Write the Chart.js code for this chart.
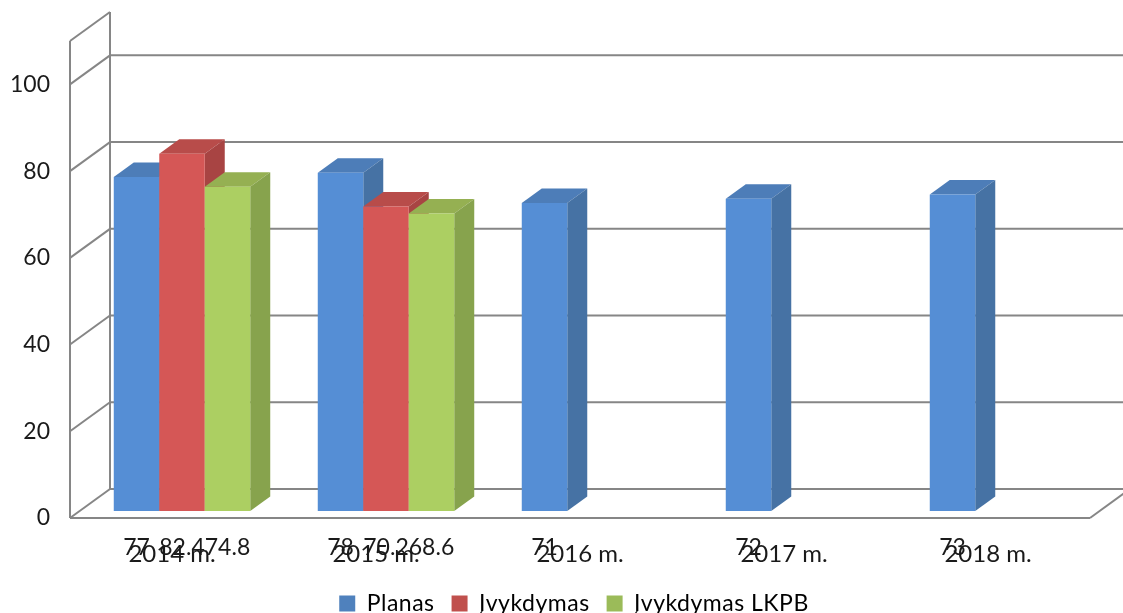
<!DOCTYPE html>
<html>
<head>
<meta charset="utf-8">
<style>
  html, body { margin: 0; padding: 0; background: #fff; overflow: hidden; }
  #wrap { width: 1123px; height: 613px; position: relative; }
</style>
<script src="https://cdn.jsdelivr.net/npm/chart.js"></script>
</head>
<body>
<div id="wrap"><canvas id="chart"></canvas></div>
<script>
// Data
const categories = ['2014 m.', '2015 m.', '2016 m.', '2017 m.', '2018 m.'];
const planas = [77, 78, 71, 72, 73];
const ivykdymas = [82.4, 70.2, null, null, null];
const ivykdymasLkpb = [74.8, 68.6, null, null, null];
const yTicks = [0, 20, 40, 60, 80, 100];

const FONT = 'Lato';
const GRID = '#868686';
const WALL = { dx: 40, dy: -29 };   // depth of the fake 3d box
const BAR_SHIFT = { dx: 10, dy: -7 };
const BAR_DEPTH = { dx: 20, dy: -14.5 };

const shades = [
    { front: '#558ed5', top: '#4d7db8', side: '#4672a4', legend: '#4f81bd' },
    { front: '#d55756', top: '#b84c4a', side: '#a84443', legend: '#c0504d' },
    { front: '#accf62', top: '#95b052', side: '#87a34d', legend: '#9bbb59' }
];

// Walls and floor behind the bars
const wallsPlugin = {
    id: 'walls',
    beforeDatasetsDraw(chart) {
        const { ctx, chartArea, scales } = chart;
        const left = chartArea.left, right = chartArea.right;
        const bottom = scales.y.getPixelForValue(0), top = chartArea.top;
        ctx.save();
        ctx.strokeStyle = GRID;
        ctx.lineWidth = 2;
        const line = (x1, y1, x2, y2) => {
            ctx.beginPath();
            ctx.moveTo(x1, y1);
            ctx.lineTo(x2, y2);
            ctx.stroke();
        };
        line(left, top, left, bottom);
        line(left + WALL.dx, top + WALL.dy, left + WALL.dx, bottom + WALL.dy);
        line(left, top, left + WALL.dx, top + WALL.dy);
        yTicks.forEach(v => {
            const y = scales.y.getPixelForValue(v);
            line(left, y, left + WALL.dx, y + WALL.dy);
            line(left + WALL.dx, y + WALL.dy, right + WALL.dx, y + WALL.dy);
        });
        line(left, bottom, right, bottom);
        line(right, bottom, right + WALL.dx, bottom + WALL.dy);
        ctx.restore();
    }
};

// Default bar drawing is cancelled so the series can be painted left to right,
// each bar with its top and side faces
const barsPlugin = {
    id: 'bars3d',
    beforeDatasetDraw() {
        return false;
    },
    afterDatasetsDraw(chart) {
        const { ctx } = chart;
        ctx.save();
        ctx.translate(BAR_SHIFT.dx, BAR_SHIFT.dy);
        chart.data.datasets.forEach((ds, i) => {
            const colors = shades[i];
            chart.getDatasetMeta(i).data.forEach((bar, j) => {
                if (ds.data[j] === null) return;
                const l = bar.x - bar.width / 2, r = bar.x + bar.width / 2;
                const t = bar.y, b = bar.base;
                ctx.fillStyle = colors.top;
                ctx.beginPath();
                ctx.moveTo(l, t);
                ctx.lineTo(l + BAR_DEPTH.dx, t + BAR_DEPTH.dy);
                ctx.lineTo(r + BAR_DEPTH.dx, t + BAR_DEPTH.dy);
                ctx.lineTo(r, t);
                ctx.closePath();
                ctx.fill();
                ctx.fillStyle = colors.side;
                ctx.beginPath();
                ctx.moveTo(r, t);
                ctx.lineTo(r + BAR_DEPTH.dx, t + BAR_DEPTH.dy);
                ctx.lineTo(r + BAR_DEPTH.dx, b + BAR_DEPTH.dy);
                ctx.lineTo(r, b);
                ctx.closePath();
                ctx.fill();
                bar.draw(ctx);
            });
        });
        ctx.restore();
    }
};

// Value labels sit under the floor, on top of the category labels
const valueLabelsPlugin = {
    id: 'valueLabels',
    afterDraw(chart) {
        const { ctx } = chart;
        ctx.save();
        ctx.font = '23px ' + FONT;
        ctx.fillStyle = '#1a1a1a';
        ctx.textAlign = 'center';
        ctx.textBaseline = 'middle';
        chart.data.datasets.forEach((ds, i) => {
            chart.getDatasetMeta(i).data.forEach((bar, j) => {
                if (ds.data[j] === null) return;
                ctx.fillText(String(ds.data[j]), bar.x + BAR_SHIFT.dx, 548);
            });
        });
        ctx.restore();
    }
};

// Legend is placed by hand: it runs off the bottom of the picture.
// Its text is also a bit more spaced out than the font gives.
const legendPlacePlugin = {
    id: 'legendPlace',
    afterInit(chart) {
        const lg = chart.legend;
        ['fit', 'draw'].forEach(name => {
            const orig = lg[name];
            lg[name] = function () {
                lg.ctx.letterSpacing = '0.5px';
                orig.apply(lg, arguments);
                lg.ctx.letterSpacing = '0px';
            };
        });
    },
    afterLayout(chart) {
        const lg = chart.legend;
        lg.left += 29;
        lg.right += 29;
        lg.top = 575;
        lg.bottom = lg.top + lg.height;
    }
};

new Chart(document.getElementById('chart'), {
    type: 'bar',
    data: {
        labels: categories,
        datasets: [
            { label: 'Planas', data: planas, backgroundColor: shades[0].front },
            { label: 'Įvykdymas', data: ivykdymas, backgroundColor: shades[1].front },
            { label: 'Įvykdymas LKPB', data: ivykdymasLkpb, backgroundColor: shades[2].front }
        ]
    },
    plugins: [wallsPlugin, barsPlugin, valueLabelsPlugin, legendPlacePlugin],
    options: {
        responsive: true,
        maintainAspectRatio: false,
        animation: false,
        layout: { padding: { top: 41, right: 33, left: 0, bottom: -53 } },
        datasets: { bar: { categoryPercentage: 0.669, barPercentage: 1 } },
        plugins: {
            tooltip: { enabled: false },
            legend: {
                position: 'bottom',
                labels: {
                    font: { family: FONT, size: 23 },
                    color: '#1a1a1a',
                    boxWidth: 16,
                    boxHeight: 16,
                    padding: 17,
                    generateLabels(chart) {
                        return chart.data.datasets.map((ds, i) => ({
                            text: ds.label,
                            fillStyle: shades[i].legend,
                            strokeStyle: shades[i].legend,
                            lineWidth: 0,
                            datasetIndex: i
                        }));
                    }
                }
            }
        },
        scales: {
            x: {
                grid: { display: false },
                border: { display: false },
                ticks: {
                    font: { family: FONT, size: 24 },
                    color: '#1a1a1a',
                    maxRotation: 0,
                    padding: 14
                },
                afterFit(scale) { scale.height = 98; }
            },
            y: {
                min: 0,
                max: 110,
                grid: { display: false },
                border: { display: false },
                ticks: {
                    font: { family: FONT, size: 23 },
                    color: '#1a1a1a',
                    padding: 12
                },
                afterBuildTicks(scale) { scale.ticks = yTicks.map(v => ({ value: v })); },
                afterFit(scale) { scale.width = 70; }
            }
        }
    }
});
</script>
</body>
</html>
